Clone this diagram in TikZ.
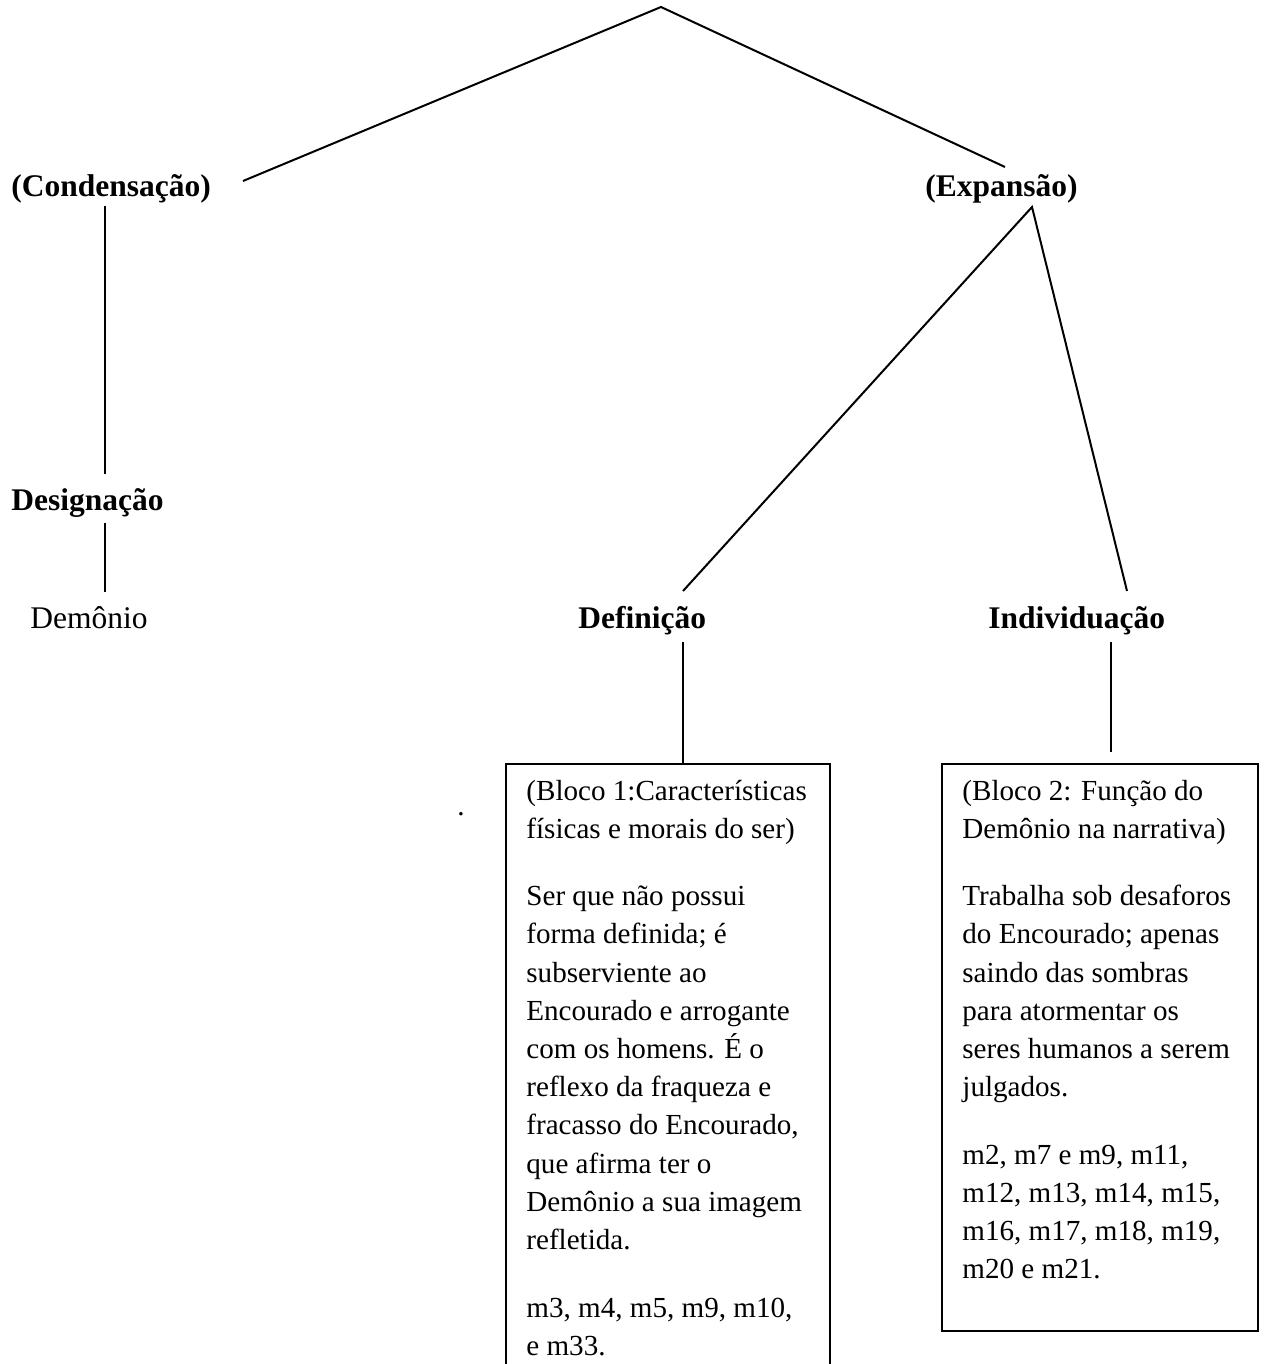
\documentclass[tikz,border=0pt]{standalone}
\usepackage{fontspec}
\setmainfont{Liberation Serif}
\newcommand{\bodyfont}{\fontsize{14.55pt}{19.1pt}\selectfont}
\newcommand{\blocktxt}[1]{\parbox[t]{160pt}{\bodyfont\raggedright #1}}
\tikzset{
  conn/.style={line width=1pt},
  lab/.style={inner sep=0pt, anchor=base west, font=\fontsize{15.75pt}{19pt}\selectfont\bfseries},
  plainlab/.style={inner sep=0pt, anchor=base west, font=\fontsize{15.75pt}{19pt}\selectfont},
  blockbox/.style={draw, line width=1pt, inner sep=0pt, anchor=north west},
  blocktext/.style={inner sep=0pt, anchor=base west, font=\bodyfont},
}
\begin{document}
\begin{tikzpicture}[x=0.5pt, y=-0.5pt]
\useasboundingbox (0,0) rectangle (1264,1364);
\clip (0,0) rectangle (1264,1364);

% labels
\node[lab] (cond) at (11,197) {(Condensação)};
\node[lab] (exp) at (925,197) {(Expansão)};
\node[lab] (desig) at (11,510) {Designação};
\node[plainlab] (dem) at (30,628) {Demônio};
\node[lab] (defn) at (578,628) {Definição};
\node[lab] (indiv) at (988,628) {Individuação};

% boxes
\node[blockbox, minimum width=162pt, minimum height=330pt] (b1) at (505,763) {};
\node[blockbox, minimum width=158pt, minimum height=283.5pt] (b2) at (941,763) {};

\node[blocktext] (t1) at (526,800) {\blocktxt{%
(Bloco 1:Características\\
físicas e morais do ser)\\[14.65pt]
Ser que não possui\\
forma definida; é\\
subserviente ao\\
Encourado e arrogante\\
com os homens. É o\\
reflexo da fraqueza e\\
fracasso do Encourado,\\
que afirma ter o\\
Demônio a sua imagem\\
refletida.\\[14.65pt]
m3, m4, m5, m9, m10,\\
e m33.}};

\node[blocktext] (t2) at (962,800) {\blocktxt{%
(Bloco 2: Função do\\
Demônio na narrativa)\\[14.65pt]
Trabalha sob desaforos\\
do Encourado; apenas\\
saindo das sombras\\
para atormentar os\\
seres humanos a serem\\
julgados.\\[14.65pt]
m2, m7 e m9, m11,\\
m12, m13, m14, m15,\\
m16, m17, m18, m19,\\
m20 e m21.}};

\node[blocktext] (dot) at (457,815) {.};

% connector end points
\coordinate (apex) at (661,7);
\coordinate (cL) at (243,181);
\coordinate (cR) at (1005,167);
\coordinate (c1) at (105,206);
\coordinate (c2) at (105,474);
\coordinate (g1) at (105,523);
\coordinate (g2) at (105,592);
\coordinate (e0) at (1032,207);
\coordinate (e1) at (683,591);
\coordinate (e2) at (1127,591);
\coordinate (d0) at (683,642);
\coordinate (i0) at (1111,642);
\coordinate (i1) at (1111,752);

% connectors
\draw[conn] (cL) -- (apex) -- (cR);
\draw[conn] (c1) -- (c2);
\draw[conn] (g1) -- (g2);
\draw[conn] (e1) -- (e0) -- (e2);
\draw[conn] (d0) -- (d0 |- b1.north);
\draw[conn] (i0) -- (i1);
\end{tikzpicture}
\end{document}
